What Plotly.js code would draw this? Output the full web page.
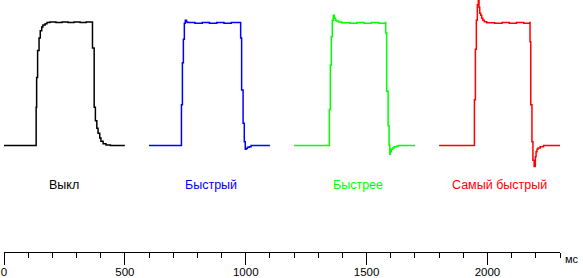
<!DOCTYPE html>
<html>
<head>
<meta charset="utf-8">
<script src="https://cdn.plot.ly/plotly-3.0.1.min.js"></script>
<style>html,body{margin:0;padding:0;background:#fff;}#chart{width:583px;height:278px;}</style>
</head>
<body>
<div id="chart"></div>
<script>
// Times in ms, brightness in % of plateau level
const offT = [0,130,132,133,135,139,145,150,156,161,170,178,190,215,240,265,290,315,340,364,366,373,378,384,389,396,401,410,422,440,500];
const offV = [0,0,0,31,55,77,87,93,96,97.5,98.5,99.5,100,99.5,100,99.5,100,99.5,100,100,79,31,20,14,10,6,3.5,1.5,0.4,0,0];

const fastT = [600,733,734,738,742,746,750,755,760,790,820,850,880,910,940,978,979,983,989,994,998,1001,1007,1015,1022,1100];
const fastV = [0,0,33,67,86,99,101.5,100,99.5,99,99.5,99,99.5,99,99.5,99.5,87,45,18,3,-3,-2.5,-1.5,-1,0,0];

const fasterT = [1200,1345,1346,1350,1354,1358,1362,1366,1371,1375,1383,1397,1430,1460,1490,1520,1550,1578,1579,1583,1589,1593,1596,1598,1602,1607,1614,1625,1631,1700];
const fasterV = [0,0,29,65,88,101.5,105.5,103,101.5,100.8,100,99.4,99,99.5,99,99.5,99,99.5,91,44,16,0.5,-7,-5,-3,-2,-1,-0.3,0,0];

const fastestT = [1800,1945,1946,1950,1954,1958,1962,1965,1968,1972,1976,1981,1987,1997,2030,2060,2090,2120,2150,2175,2176,2179,2184,2188,2193,2196,2198,2201,2205,2209,2218,2232,2300];
const fastestV = [0,0,37,78,101.5,114,119,112,107,105.5,103,101.5,100.2,99.4,99,99.5,99,99.5,99,99.5,84,33,3,-12,-17,-17,-9,-5,-3,-2,-1,0,0];

const labels = ['Выкл','Быстрый','Быстрее','Самый быстрый'];
const labelX = [250,855,1463,2050];
const labelY = -32;
const colors = ['#000000','#0000ff','#00ff00','#ff0000'];

const series = [[offT,offV],[fastT,fastV],[fasterT,fasterV],[fastestT,fastestV]];
const data = series.map((s,i)=>({
  x: s[0], y: s[1], type:'scatter', mode:'lines',
  line:{color:colors[i], width:1.5, shape:'hv'},
  hoverinfo:'skip', cliponaxis:false, showlegend:false
}));

const annotations = labels.map((t,i)=>({
  text:t, x:labelX[i], y:labelY, xref:'x', yref:'y', showarrow:false,
  xanchor:'center', yanchor:'middle',
  font:{family:'Liberation Sans, Arial, sans-serif', size:12.5, color:colors[i]}
}));
annotations.push({
  text:'мс', xref:'paper', yref:'paper', x:1, y:0, xanchor:'left', yanchor:'top',
  xshift:3, yshift:1, showarrow:false,
  font:{family:'Liberation Sans, Arial, sans-serif', size:11, color:'#000'}
});

const layout = {
  width:583, height:278,
  margin:{l:4, r:23, t:0, b:26},
  paper_bgcolor:'#fff', plot_bgcolor:'#fff',
  xaxis:{
    range:[0,2300], showgrid:false, zeroline:false,
    showline:true, linecolor:'#000', linewidth:1,
    ticks:'outside', ticklen:12, tickcolor:'#000', tickwidth:1,
    tick0:0, dtick:500, ticklabelstandoff:-3,
    minor:{dtick:100, ticks:'outside', ticklen:5, tickcolor:'#000', tickwidth:1, showgrid:false},
    tickfont:{family:'Liberation Sans Narrow, Liberation Sans, Arial, sans-serif', size:11.5, color:'#000'},
    fixedrange:true
  },
  yaxis:{
    range:[-86.2,117.8], visible:false, showgrid:false, zeroline:false, fixedrange:true
  },
  annotations:annotations,
  showlegend:false
};

Plotly.newPlot('chart', data, layout, {staticPlot:true, displayModeBar:false});
</script>
</body>
</html>
